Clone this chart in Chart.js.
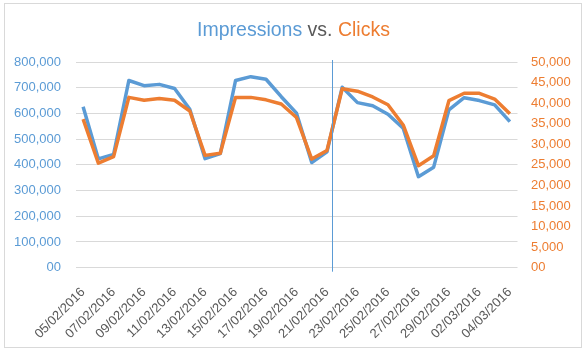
<!DOCTYPE html>
<html>
<head>
<meta charset="utf-8">
<script src="https://cdn.jsdelivr.net/npm/chart.js@4/dist/chart.umd.min.js"></script>
<style>
  body { margin: 0; background: #fff; }
  #wrap { position: relative; width: 587px; height: 354px; }
  #frame { position: absolute; left: 4px; top: 3px; width: 578px; height: 345px; border: 1px solid #D9D9D9; box-sizing: border-box; }
  #Title { position: absolute; left: 0; top: 18px; width: 587px; text-align: center;
           font: 19.5px "Liberation Sans", Arial, sans-serif; line-height: 22px; color: #595959; }
  #myChart { position: absolute; left: 0; top: 0; }
</style>
</head>
<body>
<div id="wrap">
  <div id="frame"></div>
  <canvas id="myChart" width="587" height="354"></canvas>
  <div id="Title"><span style="color:#5B9BD5">Impressions</span> vs. <span style="color:#ED7D31">Clicks</span></div>
</div>
<script>
const dates = [
    '05/02/2016', '06/02/2016', '07/02/2016', '08/02/2016', '09/02/2016', '10/02/2016',
    '11/02/2016', '12/02/2016', '13/02/2016', '14/02/2016', '15/02/2016', '16/02/2016',
    '17/02/2016', '18/02/2016', '19/02/2016', '20/02/2016', '21/02/2016', '22/02/2016',
    '23/02/2016', '24/02/2016', '25/02/2016', '26/02/2016', '27/02/2016', '28/02/2016',
    '29/02/2016', '01/03/2016', '02/03/2016', '03/03/2016', '04/03/2016'
];
const impressions = [
    626000, 423000, 441000, 728000, 708000, 713000, 697000, 616000, 424000, 444000,
    728000, 743000, 733000, 665000, 601000, 409000, 451000, 702000, 642000, 630000,
    597000, 542000, 354000, 391000, 614000, 661000, 650000, 633000, 568000
];
const clicks = [
    36100, 25400, 27000, 41400, 40700, 41100, 40700, 38100, 27300, 27800,
    41400, 41400, 40800, 39800, 36500, 26400, 28500, 43500, 42900, 41500,
    39600, 34700, 24800, 27200, 40600, 42400, 42400, 41000, 37400
];
const leftTicks = [0, 100000, 200000, 300000, 400000, 500000, 600000, 700000, 800000];
const rightTicks = [0, 5000, 10000, 15000, 20000, 25000, 30000, 35000, 40000, 45000, 50000];
// vertical marker, in category units (a third of the way from 21/02 to 22/02)
const markerAt = 16.33;

const blue = '#5B9BD5';
const orange = '#ED7D31';
const grey = '#595959';

function fmt(v) {
    return v === 0 ? '00' : v.toLocaleString('en-US');
}

const markerLine = {
    id: 'markerLine',
    afterDatasetsDraw(chart) {
        const x = chart.scales.x;
        const a = x.getPixelForValue(Math.floor(markerAt));
        const b = x.getPixelForValue(Math.floor(markerAt) + 1);
        const px = Math.round(a + (b - a) * (markerAt - Math.floor(markerAt))) + 0.5;
        const ctx = chart.ctx;
        ctx.save();
        ctx.strokeStyle = blue;
        ctx.lineWidth = 1;
        ctx.beginPath();
        ctx.moveTo(px, chart.chartArea.top - 2);
        ctx.lineTo(px, chart.chartArea.bottom + 4);
        ctx.stroke();
        ctx.restore();
    }
};

new Chart(document.getElementById('myChart'), {
    type: 'line',
    data: {
        labels: dates,
        datasets: [{
            label: 'Clicks',
            data: clicks,
            yAxisID: 'y1',
            borderColor: orange,
            borderWidth: 3.5,
            borderJoinStyle: 'round',
            pointRadius: 0,
            tension: 0,
            order: 0
        }, {
            label: 'Impressions',
            data: impressions,
            yAxisID: 'y',
            borderColor: blue,
            borderWidth: 3.5,
            borderJoinStyle: 'round',
            pointRadius: 0,
            tension: 0,
            order: 1
        }]
    },
    options: {
        responsive: false,
        animation: false,
        layout: { padding: { left: 8, right: 9.5, top: 62, bottom: 0 } },
        plugins: { legend: { display: false }, title: { display: false }, tooltip: { enabled: false } },
        scales: {
            x: {
                offset: true,
                grid: { display: false },
                border: { display: false },
                afterFit(s) { s.height = 86.3; },
                ticks: {
                    autoSkip: false,
                    minRotation: 45,
                    maxRotation: 45,
                    padding: 9,
                    color: grey,
                    font: { family: 'Liberation Sans', size: 13 },
                    callback: (v, i) => (i % 2 === 0 ? dates[i] : '')
                }
            },
            y: {
                position: 'left',
                min: 0,
                max: 800000,
                afterBuildTicks(s) { s.ticks = leftTicks.map(v => ({ value: v })); },
                afterFit(s) { s.width = 67.5; },
                grid: { color: '#D9D9D9', drawTicks: false },
                border: { display: false },
                ticks: {
                    padding: 14.5,
                    color: blue,
                    font: { family: 'Liberation Sans', size: 13 },
                    callback: fmt
                }
            },
            y1: {
                position: 'right',
                min: 0,
                max: 50000,
                afterBuildTicks(s) { s.ticks = rightTicks.map(v => ({ value: v })); },
                afterFit(s) { s.width = 60; },
                grid: { drawOnChartArea: false, drawTicks: false },
                border: { display: false },
                ticks: {
                    padding: 13.5,
                    color: orange,
                    font: { family: 'Liberation Sans', size: 13 },
                    callback: fmt
                }
            }
        }
    },
    plugins: [markerLine]
});
</script>
</body>
</html>
